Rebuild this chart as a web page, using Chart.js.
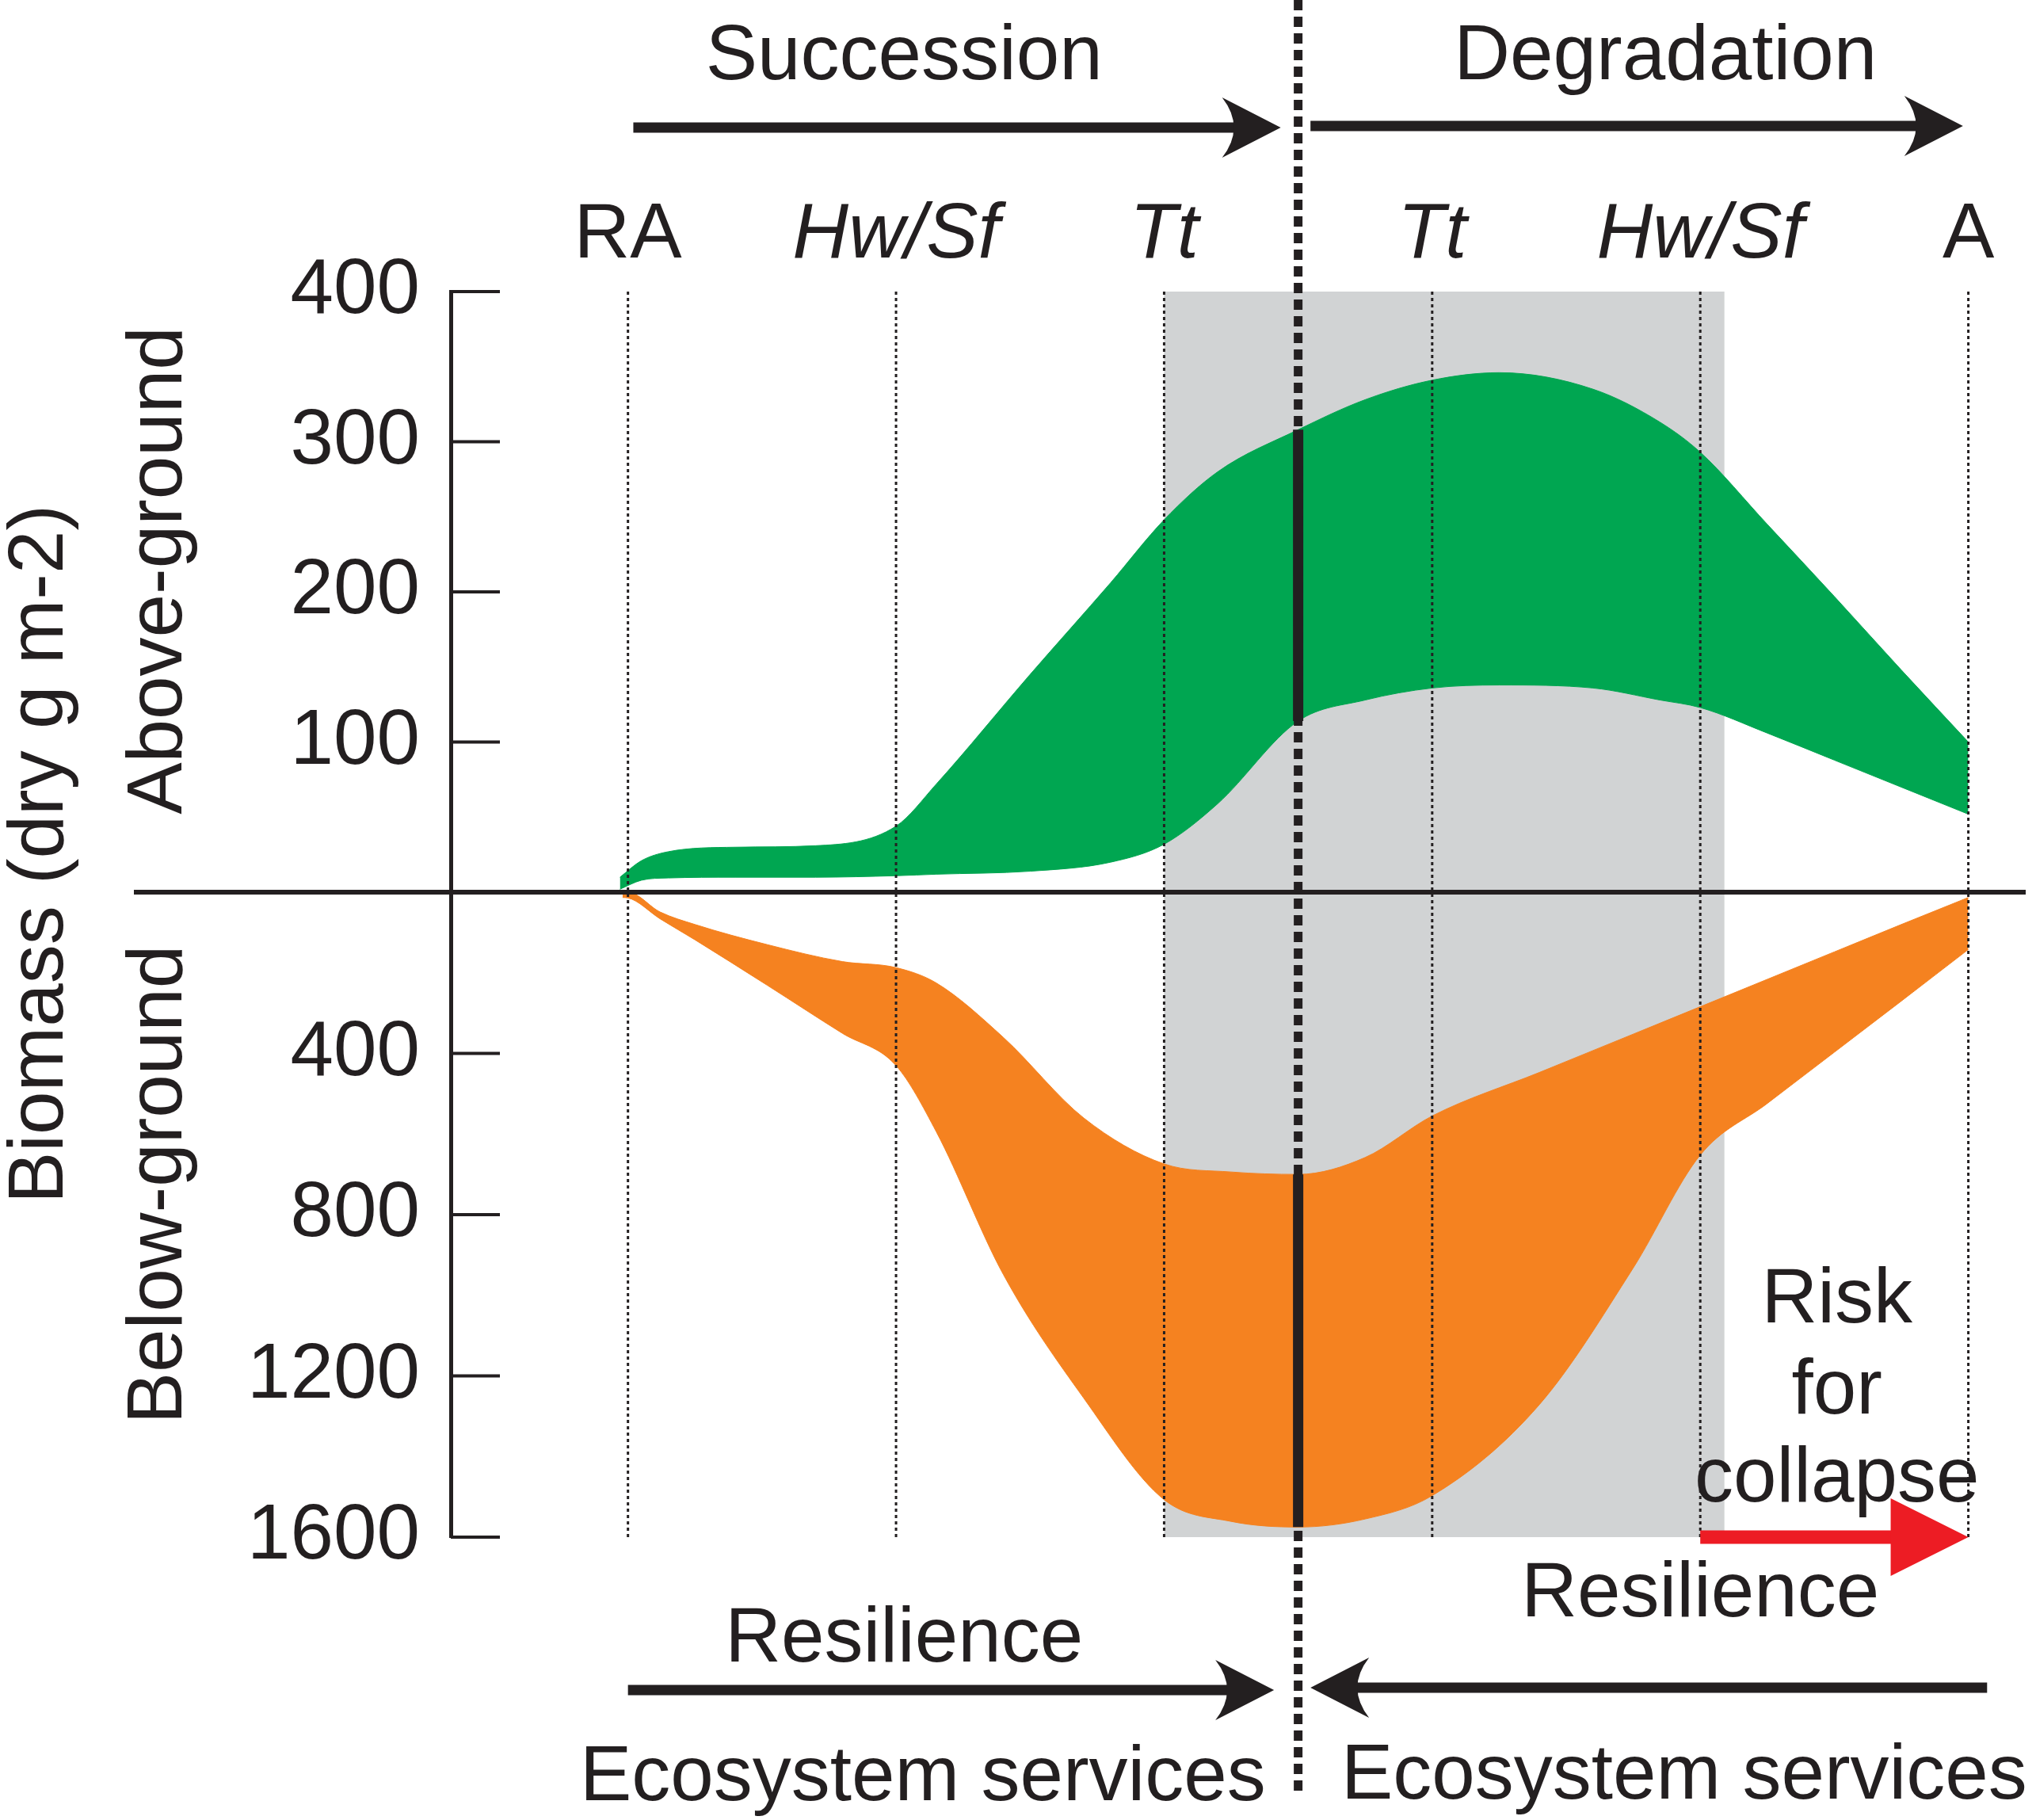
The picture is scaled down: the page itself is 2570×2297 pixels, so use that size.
<!DOCTYPE html>
<html>
<head>
<meta charset="utf-8">
<script src="https://cdn.jsdelivr.net/npm/chart.js@4.4.1/dist/chart.umd.min.js"></script>
<style>
  html, body { margin: 0; padding: 0; background: #fff; }
  #wrap { width: 2570px; height: 2297px; }
</style>
</head>
<body>
<div id="wrap"><canvas id="chart" width="2570" height="2297"></canvas></div>
<script>
// stages along the gradient, pivot between succession and degradation at 2.5
const stageLabels = ['RA', 'Hw/Sf', 'Tt', 'Tt', 'Hw/Sf', 'A'];
const stageX = [0, 1, 2, 3, 4, 5];
const stageItalic = [false, true, true, true, true, false];
const pivotX = 2.5;

// above-ground biomass band (dry g m-2)
const aboveX     = [-0.03, 0.05, 0.15, 0.4, 0.7, 1.0, 1.15, 1.5, 1.8, 2.0, 2.2, 2.5, 2.75, 3.0, 3.25, 3.6, 3.85, 4.0, 4.25, 4.5, 4.75, 5.0];
const aboveUpper = [10, 21, 27, 30, 31, 44, 72, 145, 206, 248, 280, 308, 328, 341, 346, 335, 313, 293, 245, 197, 148, 100];
const aboveLower = [2, 8, 9.5, 10, 10, 11, 12, 14, 20, 32, 59, 114, 128, 136, 138, 136, 128, 123, 106, 88, 70, 52];

// below-ground biomass band (dry g m-2, plotted downwards)
const belowX     = [-0.02, 0, 0.12, 0.25, 0.52, 0.8, 1.0, 1.15, 1.4, 1.7, 2.0, 2.25, 2.5, 2.75, 3.0, 3.4, 3.75, 4.0, 4.25, 4.5, 4.75, 5.0];
const belowUpper = [0, 0, 49, 80, 130, 172, 187, 225, 360, 560, 674, 694, 700, 658, 555, 447, 352, 284, 216, 148, 80, 13];
const belowLower = [13, 14, 66, 118, 231, 350, 430, 594, 948, 1255, 1507, 1561, 1575, 1555, 1497, 1271, 932, 652, 524, 397, 270, 142];

// axis ticks
const aboveTicks = [400, 300, 200, 100];
const belowTicks = [400, 800, 1200, 1600];

// below-ground part of the axis is compressed
const K = 0.2684;
const ink = '#231f20';
const green = '#00a651';
const orange = '#f58220';
const grey = '#d1d3d4';
const red = '#ed1c24';
const fam = "'Liberation Sans', Arial, sans-serif";

const pts = (xs, ys, f) => xs.map((x, i) => ({ x: x, y: f(ys[i]) }));
const up = v => v;
const down = v => -v * K;

const iA = aboveX.indexOf(pivotX);
const iB = belowX.indexOf(pivotX);

const band = (data, color, fill) => ({
    data: data,
    fill: fill,
    backgroundColor: color,
    borderColor: color,
    borderWidth: 1,
    pointRadius: 0,
    cubicInterpolationMode: 'monotone',
    order: 1
});
const bar = (data) => ({
    data: data,
    fill: false,
    borderColor: ink,
    borderWidth: 13,
    borderCapStyle: 'butt',
    pointRadius: 0,
    order: 0
});

function text(ctx, str, px, py, opts) {
    opts = opts || {};
    ctx.save();
    ctx.font = (opts.italic ? 'italic ' : '') + (opts.size || 98) + 'px ' + fam;
    ctx.fillStyle = ink;
    ctx.textAlign = opts.align || 'center';
    ctx.textBaseline = 'alphabetic';
    ctx.translate(px, py);
    if (opts.rot) ctx.rotate(opts.rot);
    ctx.fillText(str, 0, 0);
    ctx.restore();
}

function arrow(ctx, xFrom, xTo, yy, shaft, len, half, concave, color) {
    const dir = Math.sign(xTo - xFrom);
    const base = xTo - dir * len;
    ctx.save();
    ctx.strokeStyle = color;
    ctx.fillStyle = color;
    ctx.lineWidth = shaft;
    ctx.lineCap = 'butt';
    ctx.beginPath();
    ctx.moveTo(xFrom, yy);
    ctx.lineTo(base + dir * len * 0.25, yy);
    ctx.stroke();
    ctx.beginPath();
    ctx.moveTo(xTo, yy);
    ctx.lineTo(base, yy - half);
    if (concave) ctx.quadraticCurveTo(base + dir * len * 0.4, yy, base, yy + half);
    else ctx.lineTo(base, yy + half);
    ctx.closePath();
    ctx.fill();
    ctx.restore();
}

const decor = {
    id: 'decor',
    beforeDatasetsDraw(chart) {
        const { ctx, chartArea: a, scales: { x } } = chart;
        // shaded transition zone
        const x0 = x.getPixelForValue(2), x1 = x.getPixelForValue(4.09);
        ctx.save();
        ctx.fillStyle = grey;
        ctx.fillRect(x0, a.top, x1 - x0, a.bottom - a.top);
        ctx.restore();
    },
    afterDatasetsDraw(chart) {
        const { ctx, chartArea: a, scales: { x, y } } = chart;
        ctx.save();
        // stage guide lines
        ctx.strokeStyle = ink;
        ctx.lineWidth = 3;
        ctx.setLineDash([4, 4]);
        stageX.forEach(v => {
            const px = x.getPixelForValue(v);
            ctx.beginPath();
            ctx.moveTo(px, a.top);
            ctx.lineTo(px, a.bottom);
            ctx.stroke();
        });
        // pivot line
        ctx.lineWidth = 11;
        ctx.setLineDash([13, 8]);
        const pp = x.getPixelForValue(pivotX);
        ctx.beginPath();
        ctx.moveTo(pp, 0);
        ctx.lineTo(pp, 2265);
        ctx.stroke();
        ctx.setLineDash([]);
        // zero line
        const y0 = y.getPixelForValue(0);
        ctx.lineWidth = 6;
        ctx.beginPath();
        ctx.moveTo(169, y0);
        ctx.lineTo(a.right, y0);
        ctx.stroke();
        // tick marks pointing into the plot
        ctx.lineWidth = 4;
        y.ticks.forEach(t => {
            const py = y.getPixelForValue(t.value);
            ctx.beginPath();
            ctx.moveTo(a.left, py);
            ctx.lineTo(a.left + 62, py);
            ctx.stroke();
        });
        ctx.restore();
    },
    afterDraw(chart) {
        const { ctx, scales: { x } } = chart;
        const X = v => x.getPixelForValue(v);

        stageLabels.forEach((s, i) => text(ctx, s, X(stageX[i]), 325, { italic: stageItalic[i] }));

        text(ctx, 'Succession', X(1.03), 100);
        text(ctx, 'Degradation', X(3.87), 100);
        arrow(ctx, X(0.02), X(2.435), 161, 13, 74, 38, true, ink);
        arrow(ctx, X(2.546), X(4.98), 159, 13, 74, 38, true, ink);

        text(ctx, 'Resilience', X(1.03), 2097);
        text(ctx, 'Resilience', X(4.0), 2040);
        arrow(ctx, X(0), X(2.41), 2133, 13, 74, 38, true, ink);
        arrow(ctx, X(5.07), X(2.546), 2130, 13, 74, 38, true, ink);
        text(ctx, 'Ecosystem services', X(1.10), 2272);
        text(ctx, 'Ecosystem services', X(3.94), 2270);

        text(ctx, 'Risk', X(4.51), 1669);
        text(ctx, 'for', X(4.51), 1784);
        text(ctx, 'collapse', X(4.51), 1895);
        arrow(ctx, X(4), X(5), 1940, 17, 98, 49, false, red);

        text(ctx, 'Biomass (dry g m-2)', 79, 1078, { rot: -Math.PI / 2 });
        text(ctx, 'Above-ground', 229, 720, { rot: -Math.PI / 2 });
        text(ctx, 'Below-ground', 229, 1495, { rot: -Math.PI / 2 });
    }
};

new Chart(document.getElementById('chart'), {
    type: 'line',
    data: {
        datasets: [
            band(pts(aboveX, aboveUpper, up), green, '+1'),
            band(pts(aboveX, aboveLower, up), green, false),
            band(pts(belowX, belowUpper, down), orange, '+1'),
            band(pts(belowX, belowLower, down), orange, false),
            bar([{ x: pivotX, y: aboveUpper[iA] }, { x: pivotX, y: aboveLower[iA] }]),
            bar([{ x: pivotX, y: down(belowUpper[iB]) }, { x: pivotX, y: down(belowLower[iB]) }])
        ]
    },
    options: {
        responsive: false,
        devicePixelRatio: 1,
        animation: false,
        events: [],
        layout: { padding: { top: 368, bottom: 357, left: 0, right: 13 } },
        plugins: { legend: { display: false }, tooltip: { enabled: false } },
        scales: {
            x: { type: 'linear', min: -0.661, max: 5.214, display: false },
            y: {
                type: 'linear',
                min: -1600 * K,
                max: 400,
                afterFit(s) { s.width = 569; },
                afterBuildTicks(s) {
                    s.ticks = aboveTicks.map(v => ({ value: v }))
                        .concat(belowTicks.map(v => ({ value: down(v) })));
                },
                ticks: {
                    autoSkip: false,
                    padding: 39,
                    color: ink,
                    font: { family: fam, size: 98 },
                    callback: v => v > 0 ? Math.round(v) : Math.round(-v / K / 100) * 100
                },
                grid: { display: false, drawTicks: false },
                border: { display: true, color: ink, width: 5 }
            }
        }
    },
    plugins: [decor]
});
</script>
</body>
</html>
